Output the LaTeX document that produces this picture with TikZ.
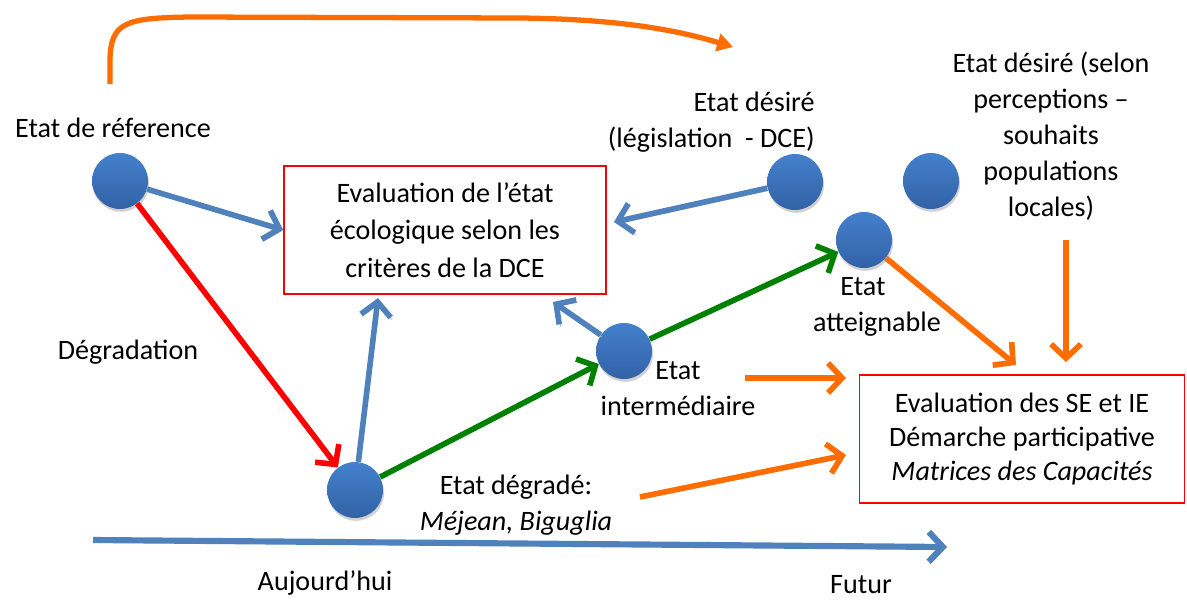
\documentclass[tikz,border=0pt]{standalone}
\usepackage{fontspec}
\setmainfont{Carlito}
\usetikzlibrary{arrows.meta,shadows,calc}
\definecolor{cblue}{RGB}{79,129,189}
\definecolor{cballtop}{RGB}{68,128,204}
\definecolor{cballbot}{RGB}{50,98,166}
\definecolor{cgreen}{RGB}{0,128,0}
\definecolor{corange}{RGB}{255,108,0}
\begin{document}
\begin{tikzpicture}[x=0.02cm,y=-0.02cm,
  every node/.style={font=\fontsize{16}{20.5}\selectfont, inner sep=0pt},
  ball/.style={circle, minimum size=1.12cm, top color=cballtop, bottom color=cballbot, draw=none,
    drop shadow={opacity=0.3, shadow xshift=0.6pt, shadow yshift=-1.6pt, fill=black!60}},
  evalbox/.style={draw=red, line width=1pt, align=center, font=\fontsize{16}{21.5}\selectfont},
  barb/.style={-{Straight Barb[length=8pt,width=17pt]}, line width=3.2pt},
  bluearrow/.style={barb, draw=cblue, preaction={draw=black!28, transform canvas={shift={(0.8pt,-1.3pt)}}}},
  redarrow/.style={barb, draw=red},
  greenarrow/.style={barb, draw=cgreen},
  orangearrow/.style={barb, draw=corange}
]
\useasboundingbox (0,0) rectangle (1187,599);

% balls
\node[ball] (ref) at (120,181) {};
\node[ball] (dce) at (795,182) {};
\node[ball] (loc) at (931,181) {};
\node[ball] (att) at (864,240) {};
\node[ball] (inter) at (624,351) {};
\node[ball] (deg) at (355,490) {};

% boxes
\node[evalbox, minimum width=6.44cm, minimum height=2.56cm] (box1) at (445,230)
  {Evaluation de l’état\\écologique selon les\\critères de la DCE};
\node[evalbox, minimum width=6.5cm, minimum height=2.56cm, font=\fontsize{16}{19.3}\selectfont] (box2) at (1022,439)
  {Evaluation des SE et IE\\Démarche participative\\\textit{Matrices des Capacités}};

% labels
\node (tref) at (113,128) {Etat de réference};
\node[anchor=east, align=right] (tdce) at (815,122) {Etat désiré\\(législation~~- DCE)};
\node[align=center] (tloc) at (1051,136) {Etat désiré (selon\\perceptions –\\souhaits\\populations\\locales)};
\node (tdeg) at (128,352) {Dégradation};
\node[align=center] (tatt) at (877,307) {Etat\hspace*{0.56cm}\\atteignable};
\node[align=center] (tint) at (678,389) {Etat\\intermédiaire};
\node[align=center] (tdgd) at (516,505) {Etat dégradé:\\\textit{Méjean, Biguglia}};
\node (tauj) at (325,583) {Aujourd’hui};
\node (tfut) at (861,585) {Futur};

% coordinates
\coordinate (c1) at (614,222);
\coordinate (c2) at (553,302);
\coordinate (c3) at (378,298);
\coordinate (c4) at (1016,365);
\coordinate (c5a) at (1066,240);
\coordinate (c5b) at (1066,362);
\coordinate (c6a) at (745,378);
\coordinate (c6b) at (846,378);
\coordinate (c7a) at (640,497);
\coordinate (c7b) at (846,455);
\coordinate (t1) at (93,540);
\coordinate (t2) at (947,547);
\coordinate (a1) at (110,84);
\coordinate (a2) at (733,47);

% blue arrows
\draw[bluearrow] (ref) -- (box1.west);
\draw[bluearrow] (dce) -- (c1);
\draw[bluearrow] (inter) -- (c2);
\draw[bluearrow] (deg) -- (c3);
\draw[bluearrow, line width=3.5pt] (t1) -- (t2);

% red
\draw[redarrow] (ref) -- (deg);
% green
\draw[greenarrow] (deg) -- (inter);
\draw[greenarrow] (inter) -- (att);
% orange
\draw[orangearrow] (att) -- (c4);
\draw[orangearrow] (c5a) -- (c5b);
\draw[orangearrow] (c6a) -- (c6b);
\draw[orangearrow] (c7a) -- (c7b);
\draw[corange, line width=3pt, -{Triangle[length=9pt,width=10pt]}]
  (a1) -- (110,62) .. controls (110,22) and (125,18) .. (190,17)
  -- (520,18) .. controls (610,19) and (670,28) .. (a2);
\end{tikzpicture}
\end{document}
